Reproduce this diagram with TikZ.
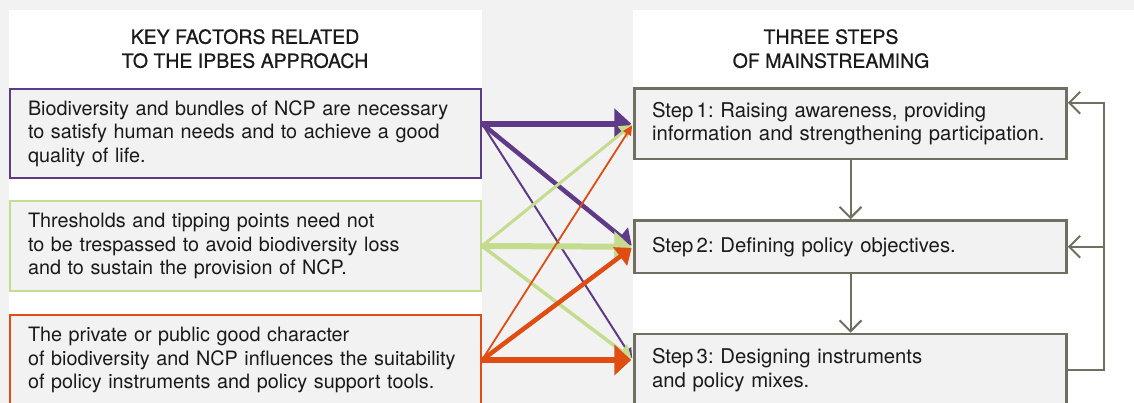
\documentclass[tikz,border=0pt]{standalone}
\usepackage{fontspec}
\setmainfont{TeX Gyre Heros}
\newfontfamily\hdfam[FakeBold=0.6]{TeX Gyre Heros}
\usetikzlibrary{arrows.meta,calc}
\definecolor{pagebg}{HTML}{F2F2F2}
\definecolor{boxfill}{HTML}{F2F2F2}
\definecolor{txtblack}{HTML}{1A1A1A}
\definecolor{ipbespurple}{HTML}{5E3A87}
\definecolor{ipbesgreen}{HTML}{C4DC8E}
\definecolor{ipbesorange}{HTML}{DF4D12}
\definecolor{stepgray}{HTML}{6F7061}
\newcommand{\txtfont}{\fontsize{19.8}{23.5}\selectfont}
\newcommand{\stfont}{\fontsize{20.3}{23.5}\selectfont}
\newcommand{\hdfont}{\hdfam\fontsize{19.5}{24}\selectfont}
\frenchspacing

\begin{document}
\begin{tikzpicture}[x=1pt, y=-1pt,
    factor/.style={draw=#1, line width=2pt, fill=boxfill, text=txtblack, minimum width=471pt,
        minimum height=90pt, text width=435pt, inner xsep=18pt, align=left, font=\txtfont},
    stepbox/.style={draw=stepgray, line width=2.5pt, fill=boxfill, text=txtblack, minimum width=432pt,
        text width=397pt, inner xsep=17.5pt, align=left, font=\stfont},
    heading/.style={align=center, inner sep=0pt, anchor=north, text=txtblack, font=\hdfont},
    link/.style={line width=#1, shorten >=2pt, -{Triangle[length=6.5pt 1.75, width=0pt 5]}},
    flow/.style={stepgray, line width=2pt, -{Straight Barb[length=11pt, width=22pt]}},
]
\useasboundingbox (0,0) rectangle (1134,403);
\clip (0,0) rectangle (1134,403);
% Background and white panels
\fill[pagebg] (0,0) rectangle (1134,403);
\fill[white] (9,10) rectangle (482,410);
\fill[white] (633,10) rectangle (1134,410);
% Headings
\node[heading] (hleft) at (245,29) {KEY FACTORS RELATED\\TO THE IPBES APPROACH};
\node[heading] (hright) at (831,29) {THREE STEPS\\OF MAINSTREAMING};
% Key factors
\node[factor=ipbespurple, minimum height=89pt] (f1) at (245.5,133.5)
    {Biodiversity and bundles of NCP are necessary\\to satisfy human needs and to achieve a good\\quality of life.};
\node[factor=ipbesgreen] (f2) at (245.5,246)
    {Thresholds and tipping points need not\\to be trespassed to avoid biodiversity loss\\and to sustain the provision of NCP.};
\node[factor=ipbesorange] (f3) at (245.5,360)
    {The private or public good character\\of biodiversity and NCP influences the suitability\\of policy instruments and policy support tools.};
% Steps
\node[stepbox, minimum height=70.5pt] (s1) at (850.5,123.75)
    {Step\,1: Raising awareness, providing\\information and strengthening participation.};
\node[stepbox, minimum height=52.5pt] (s2) at (850.5,246.75)
    {Step\,2: Defining policy objectives.};
\node[stepbox, minimum height=72pt] (s3) at (850.5,370)
    {Step\,3: Designing instruments\\and policy mixes.};
% Arrow ends
\coordinate (p1) at (f1.east |- s1.west);
\coordinate (t3) at (s3.west |- f3.east);
% Factor-to-step arrows
\foreach \from/\to/\w/\col in {
    p1/s1.west/6pt/ipbespurple, p1/s2.west/4.5pt/ipbespurple, p1/t3/2pt/ipbespurple,
    f2.east/s1.west/3pt/ipbesgreen, f2.east/s2.west/6pt/ipbesgreen, f2.east/t3/3.5pt/ipbesgreen,
    f3.east/s1.west/1.8pt/ipbesorange, f3.east/s2.west/4.5pt/ipbesorange, f3.east/t3/6pt/ipbesorange}
    \draw[link=\w, color=\col] (\from) -- (\to);
% Step sequence and feedback loop
\draw[flow] (s1.south) -- (s2.north);
\draw[flow] (s2.south) -- (s3.north);
\coordinate (back) at (1104,0);
\draw[flow] (s3.east) -- (s3.east -| back) |- ([yshift=-15.5pt]s1.north east);
\draw[flow] (s2.east -| back) -- (s2.east);
\end{tikzpicture}
\end{document}
